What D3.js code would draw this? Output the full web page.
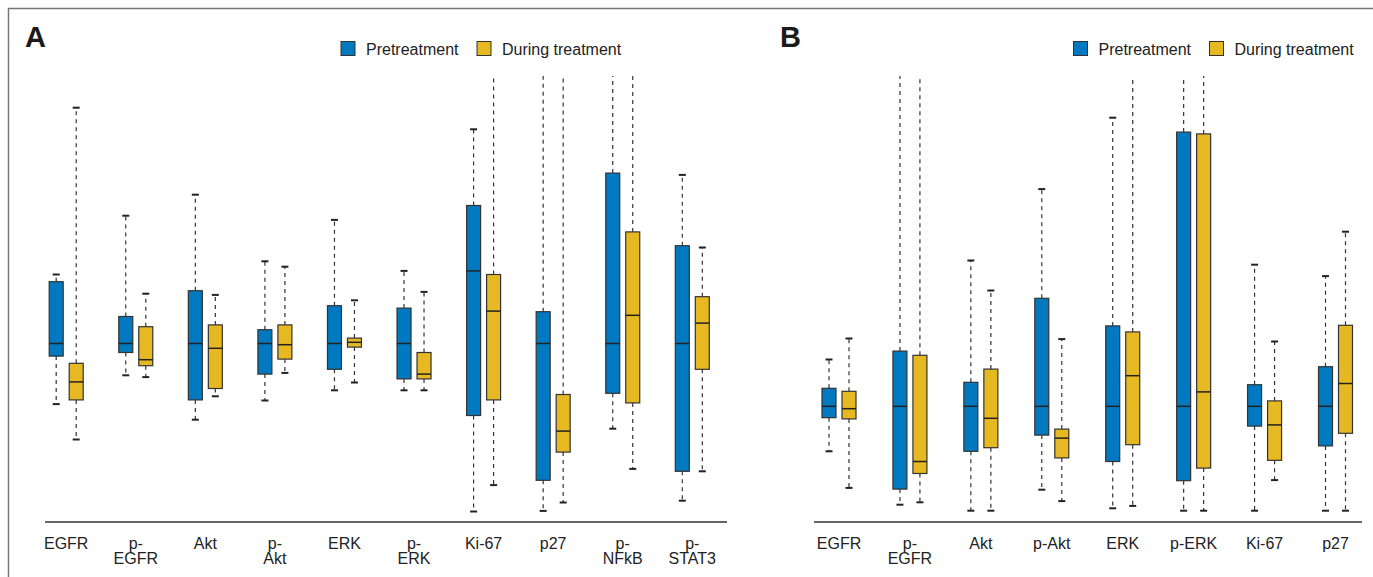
<!DOCTYPE html>
<html>
<head>
<meta charset="utf-8">
<script src="https://cdn.jsdelivr.net/npm/d3@7"></script>
<style>
  html, body { margin: 0; padding: 0; background: #fff; }
  svg { display: block; font-family: "Liberation Sans", Arial, Helvetica, sans-serif; }
</style>
</head>
<body>
<svg id="chart" width="1373" height="577"></svg>
<script>
// ---------- DATA (relative expression, pretreatment median = 0) ----------
// each entry: [whiskerLow, q1, median, q3, whiskerHigh]
const categoriesA = ["EGFR", "p-\nEGFR", "Akt", "p-\nAkt", "ERK", "p-\nERK", "Ki-67", "p27", "p-\nNFkB", "p-\nSTAT3"];
const pretreatmentA = [
  [-1.01, -0.21, 0, 1.03, 1.15],
  [-0.53, -0.15, 0, 0.45, 2.13],
  [-1.27, -0.94, 0, 0.88, 2.48],
  [-0.95, -0.51, 0, 0.23, 1.37],
  [-0.78, -0.43, 0, 0.63, 2.06],
  [-0.78, -0.59, 0, 0.59, 1.21],
  [-2.80, -1.20, 1.21, 2.30, 3.57],
  [-2.79, -2.28, 0, 0.53, 6.50],
  [-1.42, -0.83, 0, 2.84, 6.20],
  [-2.62, -2.13, 0, 1.63, 2.81]
];
const duringA = [
  [-1.60, -0.94, -0.64, -0.33, 3.93],
  [-0.56, -0.37, -0.27, 0.28, 0.83],
  [-0.88, -0.75, -0.08, 0.31, 0.81],
  [-0.49, -0.26, -0.02, 0.31, 1.28],
  [-0.65, -0.06, 0.02, 0.09, 0.72],
  [-0.78, -0.59, -0.51, -0.15, 0.86],
  [-2.36, -0.94, 0.54, 1.15, 6.00],
  [-2.65, -1.81, -1.46, -0.85, 5.50],
  [-2.09, -0.99, 0.47, 1.86, 5.80],
  [-2.13, -0.43, 0.34, 0.78, 1.60]
];

const categoriesB = ["EGFR", "p-\nEGFR", "Akt", "p-Akt", "ERK", "p-ERK", "Ki-67", "p27"];
const pretreatmentB = [
  [-0.75, -0.19, 0, 0.30, 0.78],
  [-1.64, -1.38, 0, 0.92, 7.00],
  [-1.74, -0.75, 0, 0.40, 2.43],
  [-1.39, -0.48, 0, 1.80, 3.62],
  [-1.70, -0.92, 0, 1.34, 4.81],
  [-1.74, -1.24, 0, 4.57, 7.00],
  [-1.74, -0.33, 0, 0.36, 2.36],
  [-1.74, -0.66, 0, 0.66, 2.17]
];
const duringB = [
  [-1.36, -0.21, -0.04, 0.25, 1.13],
  [-1.60, -1.12, -0.92, 0.85, 7.00],
  [-1.74, -0.69, -0.20, 0.62, 1.93],
  [-1.58, -0.86, -0.53, -0.38, 1.12],
  [-1.66, -0.64, 0.51, 1.24, 7.00],
  [-1.74, -1.03, 0.24, 4.54, 7.00],
  [-1.23, -0.90, -0.31, 0.09, 1.08],
  [-1.74, -0.45, 0.38, 1.35, 2.91]
];

const seriesNames = ["Pretreatment", "During treatment"];
const seriesColors = ["#0079C1", "#E6B922"];
const panelLabels = ["A", "B"];

// ---------- DRAWING ----------
const svg = d3.select("#chart");
const stroke = "#333";

// outer frame (top + left)
svg.append("line").attr("x1", 8).attr("x2", 1373).attr("y1", 8.5).attr("y2", 8.5)
  .attr("stroke", "#777").attr("stroke-width", 1.5);
svg.append("line").attr("x1", 8.5).attr("x2", 8.5).attr("y1", 8).attr("y2", 577)
  .attr("stroke", "#777").attr("stroke-width", 1.5);

// clip for whiskers running off the top
svg.append("defs").append("clipPath").attr("id", "plotclip")
  .append("rect").attr("x", 0).attr("y", 76).attr("width", 1373).attr("height", 460);

const panels = [
  {
    label: panelLabels[0], labelX: 25, cats: categoriesA, pre: pretreatmentA, dur: duringA,
    x: d3.scalePoint().domain(categoriesA).range([66.2, 692.3]),
    y: d3.scaleLinear().domain([-3, 5]).range([523.5, 43.5]),
    axis: [45, 727], legendX: 341
  },
  {
    label: panelLabels[1], labelX: 780, cats: categoriesB, pre: pretreatmentB, dur: duringB,
    x: d3.scalePoint().domain(categoriesB).range([839.0, 1335.5]),
    y: d3.scaleLinear().domain([-2, 6]).range([526.3, 46.3]),
    axis: [814, 1362], legendX: 1073.5
  }
];

const boxW = 14, offset = 10, capW = 7;

panels.forEach(p => {
  // panel letter
  svg.append("text").attr("x", p.labelX).attr("y", 47)
    .attr("font-size", 29).attr("font-weight", "bold").attr("fill", "#1a1a1a")
    .text(p.label);

  // legend
  const lg = svg.append("g").attr("transform", `translate(${p.legendX},0)`);
  const legendOffsets = [0, 136];
  seriesNames.forEach((name, i) => {
    lg.append("rect").attr("x", legendOffsets[i]).attr("y", 41.5).attr("width", 14).attr("height", 14)
      .attr("fill", seriesColors[i]).attr("stroke", stroke).attr("stroke-width", 1);
    lg.append("text").attr("x", legendOffsets[i] + 25).attr("y", 55)
      .attr("font-size", 16).attr("fill", "#222").text(name);
  });

  // boxes
  const g = svg.append("g").attr("clip-path", "url(#plotclip)");
  [p.pre, p.dur].forEach((series, si) => {
    series.forEach((s, ci) => {
      const cx = p.x(p.cats[ci]) + (si === 0 ? -offset : offset);
      const [lo, q1, med, q3, hi] = s;
      const y = p.y;
      // whiskers
      g.append("line").attr("x1", cx).attr("x2", cx).attr("y1", y(q3)).attr("y2", y(hi))
        .attr("stroke", stroke).attr("stroke-width", 1.2).attr("stroke-dasharray", "4,4");
      g.append("line").attr("x1", cx).attr("x2", cx).attr("y1", y(q1)).attr("y2", y(lo))
        .attr("stroke", stroke).attr("stroke-width", 1.2).attr("stroke-dasharray", "4,4");
      // caps
      [lo, hi].forEach(v => {
        g.append("line").attr("x1", cx - capW / 2).attr("x2", cx + capW / 2)
          .attr("y1", y(v)).attr("y2", y(v))
          .attr("stroke", "#222").attr("stroke-width", 2);
      });
      // box
      g.append("rect").attr("x", cx - boxW / 2).attr("y", y(q3))
        .attr("width", boxW).attr("height", y(q1) - y(q3))
        .attr("fill", seriesColors[si]).attr("stroke", stroke).attr("stroke-width", 1.2);
      // median
      g.append("line").attr("x1", cx - boxW / 2).attr("x2", cx + boxW / 2)
        .attr("y1", y(med)).attr("y2", y(med))
        .attr("stroke", "#222").attr("stroke-width", 1.5);
    });
  });

  // x axis line
  svg.append("line").attr("x1", p.axis[0]).attr("x2", p.axis[1]).attr("y1", 522).attr("y2", 522)
    .attr("stroke", "#333").attr("stroke-width", 1.5);

  // category labels
  p.cats.forEach(c => {
    const t = svg.append("text").attr("x", p.x(c)).attr("y", 548.5)
      .attr("text-anchor", "middle").attr("font-size", 16).attr("fill", "#222");
    c.split("\n").forEach((line, li) => {
      t.append("tspan").attr("x", p.x(c)).attr("dy", li === 0 ? 0 : 15).text(line);
    });
  });
});
</script>
</body>
</html>
